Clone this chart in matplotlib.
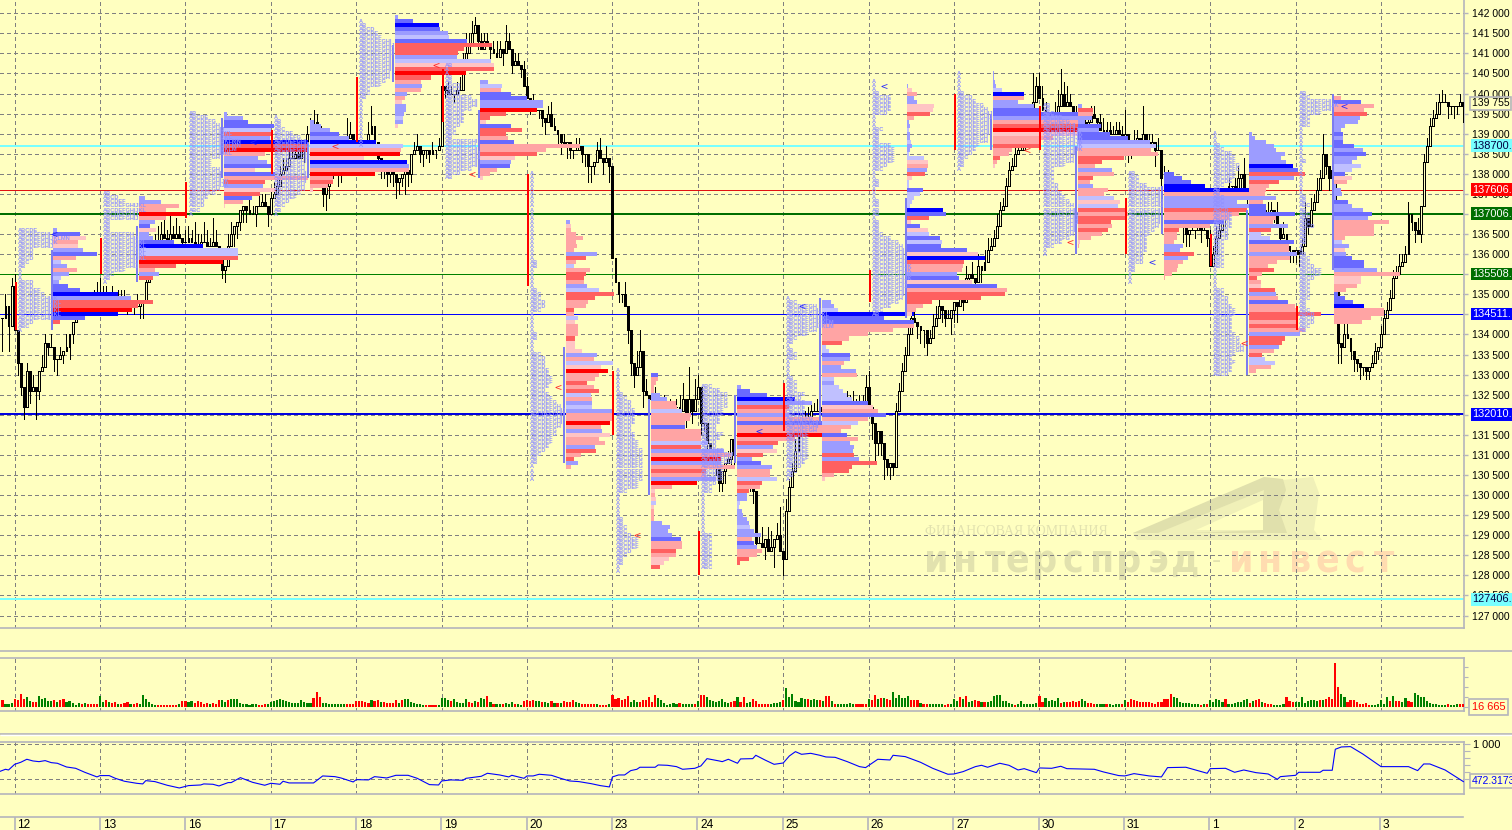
import numpy as np
import matplotlib
matplotlib.use('Agg')
import matplotlib.pyplot as plt
from matplotlib.patches import Polygon, Rectangle

BG = '#ffffc0'
GRID = '#808080'
FRAME = '#b4b4bc'
DASH = (0, (4, 3))
BAR_PX = 3.045  # one bar on screen
plt.rcParams['font.family'] = ['Liberation Sans', 'DejaVu Sans']

day_labels = ['12', '13', '16', '17', '18', '19', '20', '23', '24', '25', '26', '27', '30', '31', '1', '2', '3']

# closes, in hundreds of points, bar by bar
close_pre = [1344, 1347, 1342, 1352]
close_12 = [1341, 1333, 1327, 1322, 1331, 1326, 1327, 1326, 1331, 1332, 1338, 1337, 1337, 1334, 1334, 1335, 1336, 1337, 1340, 1343, 1344, 1346, 1347, 1347, 1348, 1348, 1349, 1350]
close_13 = [1349, 1350, 1350, 1350, 1350, 1349, 1349, 1349, 1349, 1348, 1348, 1347, 1347, 1348, 1348, 1353, 1357, 1361, 1362, 1363, 1365, 1364, 1363, 1365, 1364, 1365, 1364, 1363]
close_16 = [1363, 1364, 1363, 1362, 1362, 1363, 1363, 1362, 1362, 1363, 1362, 1361, 1356, 1357, 1362, 1365, 1367, 1368, 1371, 1372, 1371, 1370, 1370, 1372, 1372, 1373, 1372, 1370]
close_17 = [1374, 1375, 1377, 1380, 1381, 1382, 1384, 1384, 1385, 1384, 1386, 1387, 1390, 1391, 1393, 1392, 1381, 1375, 1377, 1379, 1380, 1381, 1381, 1382, 1387, 1389, 1390, 1388]
close_18 = [1388, 1386, 1386, 1386, 1390, 1392, 1388, 1384, 1382, 1381, 1380, 1381, 1380, 1378, 1379, 1380, 1381, 1380, 1385, 1386, 1387, 1385, 1386, 1386, 1385, 1386, 1386, 1387]
close_19 = [1402, 1401, 1400, 1400, 1400, 1401, 1401, 1408, 1410, 1412, 1415, 1417, 1413, 1411, 1413, 1412, 1411, 1410, 1409, 1411, 1410, 1413, 1411, 1407, 1408, 1407, 1406, 1402]
close_20 = [1399, 1397, 1396, 1396, 1396, 1394, 1393, 1395, 1392, 1391, 1390, 1388, 1387, 1388, 1386, 1386, 1386, 1387, 1385, 1385, 1382, 1382, 1383, 1386, 1384, 1383, 1384, 1382]
close_23 = [1359, 1353, 1350, 1350, 1347, 1341, 1333, 1330, 1332, 1336, 1326, 1325, 1324, 1324, 1322, 1322, 1321, 1322, 1321, 1320, 1322, 1322, 1321, 1324, 1320, 1324, 1321, 1324]
close_24 = [1327, 1318, 1318, 1313, 1310, 1310, 1308, 1303, 1306, 1308, 1309, 1314, 1310, 1311, 1314, 1311, 1306, 1304, 1301, 1288, 1288, 1287, 1289, 1286, 1287, 1289, 1290, 1286]
close_25 = [1284, 1296, 1302, 1306, 1311, 1315, 1318, 1318, 1319, 1321, 1321, 1321, 1322, 1321, 1322, 1322, 1321, 1322, 1322, 1321, 1321, 1322, 1322, 1321, 1322, 1321, 1322, 1327]
close_26 = [1322, 1318, 1313, 1316, 1313, 1309, 1307, 1308, 1307, 1321, 1326, 1331, 1335, 1340, 1344, 1343, 1342, 1341, 1341, 1338, 1339, 1342, 1344, 1347, 1346, 1344, 1344, 1346]
close_27 = [1348, 1347, 1349, 1348, 1354, 1355, 1354, 1353, 1357, 1356, 1358, 1361, 1362, 1364, 1367, 1371, 1372, 1377, 1381, 1382, 1385, 1386, 1386, 1387, 1388, 1392, 1398, 1402]
close_30 = [1399, 1396, 1394, 1392, 1391, 1395, 1397, 1400, 1397, 1398, 1397, 1394, 1395, 1395, 1393, 1392, 1393, 1395, 1394, 1393, 1391, 1390, 1391, 1390, 1390, 1391, 1390, 1389]
close_31 = [1390, 1388, 1387, 1388, 1389, 1388, 1390, 1388, 1387, 1388, 1386, 1386, 1379, 1378, 1379, 1377, 1376, 1372, 1370, 1367, 1365, 1366, 1366, 1366, 1367, 1366, 1366, 1364]
close_01 = [1357, 1360, 1364, 1366, 1370, 1376, 1377, 1377, 1376, 1379, 1380, 1376, 1375, 1372, 1374, 1372, 1371, 1371, 1370, 1369, 1371, 1370, 1367, 1364, 1365, 1362, 1361, 1360]
close_02 = [1361, 1360, 1362, 1369, 1367, 1371, 1373, 1376, 1379, 1385, 1382, 1379, 1381, 1364, 1338, 1337, 1340, 1339, 1336, 1334, 1333, 1332, 1332, 1331, 1332, 1333, 1336, 1337]
close_03 = [1340, 1344, 1346, 1349, 1354, 1355, 1357, 1358, 1360, 1370, 1368, 1366, 1365, 1372, 1383, 1387, 1392, 1394, 1395, 1398, 1398, 1398, 1397, 1397, 1397, 1397, 1398, 1397]

# wick per bar: + above the body, - below it
wick_pre = [-8, 3, -6, 2]
wick_12 = [3, -3, -2, -3, 2, -3, 3, -7, -2, 3, 2, -2, 3, -3, -4, 2, -2, 3, -3, -2, 3, 2, -2, 2, 2, -2, 2, 3]
wick_13 = [4, 2, 2, -2, 2, -2, 2, 2, 2, -3, -2, -2, 3, -3, -4, 2, 2, 3, 3, 4, 3, 4, 2, 5, 2, 4, 2, -3]
wick_16 = [3, 3, 2, 5, 3, 2, 5, 3, 2, 6, 3, -3, -2, -3, 3, 3, -3, -3, -2, -3, -3, 3, 2, -3, 3, 2, 2, -3]
wick_17 = [2, 3, 2, 2, 3, 2, 2, 2, 2, 2, 2, -3, 2, 3, 3, 2, -4, -3, -4, -3, 2, 2, -4, -3, 2, 5, 3, -5]
wick_18 = [5, -2, -3, 2, 3, 5, -2, -2, -3, -2, -3, -2, -3, -4, -3, -2, -5, -3, -2, 2, 3, -2, -3, -2, -2, 2, -2, 2]
wick_19 = [3, -2, 2, 2, -2, 2, 3, 2, 5, 3, 3, 2, -2, 2, 2, 2, -3, 2, 3, 2, -3, 4, 2, -2, 2, 2, -2, 2]
wick_20 = [2, -2, 3, 2, -2, -2, -3, 2, 3, 2, -3, -3, 2, -3, -2, -2, 3, 2, -2, -3, -4, -4, -2, 2, 3, -3, 3, -4]
wick_23 = [0, 0, -2, -2, 3, -3, -3, -3, 4, 5, -4, 3, -2, 3, 3, -3, -4, 3, -3, 3, -2, 2, 3, 4, -3, 8, -3, 5]
wick_24 = [3, -3, -2, -2, -3, -2, -3, -2, -2, -3, 2, -2, -3, 2, -3, 2, -3, -3, -3, -2, 2, 4, -3, 3, 4, -5, 3, 7]
wick_25 = [-4, 3, 2, 2, 3, 2, 2, 3, 3, 2, 2, 3, 2, 3, 4, 3, 2, 4, 2, 3, 2, 4, 3, 4, 2, 3, 3, 3]
wick_26 = [4, -4, -5, -3, -3, -5, -2, -3, -2, 2, 2, 2, 2, 2, 2, 3, -3, -3, -4, -3, 2, 3, 3, 3, -3, -2, 2, -4]
wick_27 = [-3, -4, 2, -2, 3, -2, 3, -3, 3, -3, 3, 3, 2, 2, 3, 2, 2, 2, 2, 2, 3, 3, 3, 2, 3, 4, 7, 2]
wick_30 = [3, 3, 2, -3, -2, 3, 4, 6, 3, 4, 2, -2, 2, 2, -2, 2, 3, 2, 2, -2, 2, 3, 2, 2, 2, 2, 2, 2]
wick_31 = [6, -5, -3, 3, 2, -2, 7, -2, 2, 2, -4, 3, -3, 3, 2, -3, -2, 3, 3, -4, -3, -3, 3, -2, 2, -3, 2, -2]
wick_01 = [2, 2, 3, 2, 3, -3, 2, -3, 2, 3, -3, 4, -3, -2, 3, -3, -2, 2, -2, 3, 2, -2, 3, -2, 3, -2, -3, -2]
wick_02 = [-2, -3, 2, 4, -2, 3, 2, 3, 2, 5, -2, -3, 2, 2, -5, -4, 4, 3, -2, -3, -2, -3, -2, -2, -2, 2, 2, -2]
wick_03 = [2, 2, 2, 2, 2, 2, 3, 2, 2, 3, -2, -3, 3, -2, 2, 2, 2, 2, 3, 2, 3, 2, -3, -2, -3, -2, 2, -4]

# volume per bar, + green, - red
vol_pre = [-7, 3, 3, 4]
vol_12 = [-8, -7, -13, -8, 10, 6, -5, -5, 11, 8, 9, 6, 6, -7, 5, -7, -8, 5, 6, 4, 2, 4, -3, 4, -3, -3, -3, -3]
vol_13 = [11, 5, -7, 5, -4, -5, 3, -3, -4, -5, 3, -3, -4, 3, 12, 8, 5, 3, 2, -2, -2, -2, -2, -2, -2, -2, 3, -6]
vol_16 = [-6, 5, 6, -4, -6, -5, -3, -4, 3, -4, -3, -7, 7, 5, -7, 8, 8, 8, 4, 3, 3, 2, 3, 3, -2, -2, -3, 3]
vol_17 = [5, 6, 7, 8, 7, 6, 5, 4, 4, 4, 7, 5, 4, 4, -9, -15, -10, 4, 4, 3, 3, 3, 3, 3, 3, -3, -3, -3]
vol_18 = [-6, -6, -6, -5, -4, 7, -6, -7, 5, -5, -4, -4, -4, -7, 4, -7, 8, 8, 5, 4, 3, 3, 2, -2, -2, -2, -2, 2]
vol_19 = [9, 9, 7, -6, 8, 5, 4, 4, 8, -5, -4, 6, -5, 9, 8, -11, 5, -3, 3, 3, -3, 4, 3, 5, -3, 3, 2, -6]
vol_20 = [-7, -6, -7, 6, 6, -5, 5, 4, -6, 4, -4, 4, -6, -5, -5, -7, 5, 4, -3, -3, -3, -3, -3, 3, -2, -2, -2, 3]
vol_23 = [-12, -8, -9, -7, -8, -11, 5, 7, 5, -5, -7, -7, -10, -5, -12, 9, 7, 4, 2, 3, 4, 3, -4, 3, 3, 3, 3, -3]
vol_24 = [6, -12, -12, 10, 7, 6, 5, 6, 8, 5, 4, -5, -6, 10, -5, -10, 4, 5, -8, -6, -3, -3, -3, -3, 3, 4, 4, 5]
vol_25 = [-7, 19, 10, 13, 6, 5, 9, 8, -8, 7, 8, 7, -7, 6, -11, -11, 6, -3, 3, 3, 3, 3, 4, 3, -3, -3, -3, -3]
vol_26 = [8, -7, -12, 8, -9, 9, -8, -7, 15, 9, 12, 9, 9, 11, -7, -7, -7, 4, -3, -3, 3, 3, 3, 3, 3, -2, -3, 3]
vol_27 = [8, 6, -10, 8, -11, 5, 6, -7, -6, 5, -5, 5, 6, 11, 12, 12, 6, 6, 4, 3, -2, 3, 6, 3, 3, 3, 3, 4]
vol_30 = [-11, -5, 9, 6, 7, 6, 9, -4, 5, -5, -5, -6, -5, -6, 8, 6, -4, -4, -3, 3, 3, 3, -3, 3, 2, 3, 3, -3]
vol_31 = [7, -5, -8, -7, -6, -5, -5, -5, -5, -4, -3, -5, -5, -8, -8, -13, 10, 9, 5, 4, 4, 4, 3, 3, 3, -2, 3, -3]
vol_01 = [7, 5, 8, 7, 5, -8, 3, 3, 4, 5, 5, 7, 8, -4, 6, -7, -8, 5, -4, -3, -3, 2, 2, 2, 3, -10, -6, -5]
vol_02 = [5, 5, 10, 4, 6, 7, 7, 6, -7, 7, -8, -10, -8, -44, -20, 13, 10, -5, -7, -7, -5, -3, -3, -4, -2, 2, 2, 3]
vol_03 = [7, 3, 10, -6, 11, -6, -6, 5, 9, -6, -5, 14, 12, 10, 10, 6, 4, 3, 3, 2, 2, 2, -3, 2, 2, 3, -3, -3]

# lower indicator, turning points only
osc_bar = [-5, -3, -2, 0, 2, 4, 6, 8, 10, 12, 14, 17, 20, 23, 27, 28, 31, 33, 36, 40, 42, 43, 46, 50, 54, 57, 61, 62, 65, 67, 70, 71, 74, 78, 82, 84, 87, 88, 90, 98, 101, 105, 107, 111, 112, 116, 118, 122, 125, 129, 132, 136, 139, 140, 143, 147, 148, 153, 155, 159,
           162, 163, 167, 168, 170, 172, 176, 179, 182, 185, 189, 192, 195, 196, 198, 200, 202, 204, 205, 210, 211, 214, 217, 219, 223, 225, 227, 231, 232, 234, 237, 238, 242, 243, 246, 249, 252, 254, 256, 258, 261, 264, 266, 269, 273, 277, 279, 283, 287, 288, 292, 297, 301, 306, 308, 311, 315, 317, 319, 323,
           326, 329, 331, 335, 336, 340, 343, 345, 354, 357, 362, 364, 367, 372, 376, 378, 384, 389, 391, 392, 397, 400, 403, 407, 411, 414, 415, 420, 421, 428, 429, 432, 433, 435, 438, 442, 448, 457, 460, 462, 464, 469, 475]
osc_val = [610, 643, 633, 714, 743, 786, 762, 752, 767, 738, 729, 676, 657, 600, 534, 553, 553, 514, 472, 443, 434, 481, 467, 415, 376, 410, 419, 434, 429, 405, 453, 453, 524, 457, 415, 443, 429, 472, 448, 448, 548, 538, 519, 462, 495, 491, 538, 519, 557, 557, 514, 424, 419, 476, 491, 486, 514, 543, 586, 562,
           534, 557, 514, 548, 548, 572, 557, 514, 476, 467, 438, 410, 391, 534, 562, 562, 624, 643, 672, 672, 705, 700, 681, 643, 657, 691, 795, 762, 752, 786, 729, 791, 795, 843, 776, 714, 733, 833, 895, 857, 871, 843, 819, 814, 752, 681, 667, 786, 776, 843, 824, 743, 657, 572, 576, 610, 681, 700, 672, 729,
           700, 633, 652, 595, 662, 657, 686, 652, 643, 605, 553, 548, 581, 548, 534, 667, 672, 610, 586, 652, 657, 600, 633, 595, 576, 500, 538, 557, 600, 600, 629, 629, 929, 962, 967, 862, 681, 681, 624, 719, 719, 633, 467]

# horizontal levels
level_price = [138700, 137606, 137006, 135508, 134511, 132010, 127406]
level_text = ['138700.', '137606.', '137006.', '135508.', '134511.', '132010.', '127406.']
level_width = [1.2, 0.6, 1.2, 0.6, 0.6, 1.2, 1.2]
level_color = ['#78ffff', '#e01010', '#006e00', '#008000', '#0000ff', '#0000e0', '#78ffff']
level_box = ['#78ffff', '#ff0000', '#006e00', '#006e00', '#0000ff', '#0000ff', '#78ffff']
level_ink = ['#000040', '#ffffff', '#ffffff', '#ffffff', '#ffffff', '#ffffff', '#000040']

# volume profiles, one row per 100 points from the top price downwards
# class letters: A..D buying strong to weak, E..H selling weak to strong
prof_top = [1366, 1374, 1395, 1393, 1419, 1403, 1368, 1330, 1327, 1348, 1402, 1405, 1397, 1380, 1390, 1399]
prof_12 = [4, 27, 33, 25, 25, 30, 44, 23, 8, 14, 24, 16, 8, 6, 15, 27, 65, 77, 99, 84, 78, 65, 32, 7]
cls_12 = 'CBEFECBFDCFCDCBBACGGHABG'
prof_13 = [6, 22, 40, 27, 46, 27, 16, 11, 17, 10, 14, 35, 64, 99, 99, 99, 84, 37, 16, 20, 14]
cls_13 = 'CCFFHFCBECCBADDGHGFCG'
prof_16 = [3, 19, 24, 50, 47, 47, 46, 84, 84, 84, 41, 34, 43, 48, 31, 51, 84, 41, 39, 51, 36, 28, 19, 1]
cls_16 = 'CCBBDGCAGHFCCBEBFGCEGBFE'
prof_17 = [4, 11, 20, 29, 39, 66, 93, 91, 90, 54, 97, 99, 99, 65, 23, 23, 18, 3]
cls_17 = 'CCCBCADFHEACFHFGFE'
prof_18 = [3, 18, 44, 45, 53, 54, 72, 97, 69, 63, 62, 96, 99, 99, 71, 36, 26, 27, 26, 12, 10, 7, 11, 11, 9, 8, 8, 3]
cls_18 = 'CBABCDBGGGCDEGHGFCFCFECCCDCE'
prof_19 = [8, 22, 21, 31, 47, 63, 63, 57, 26, 10, 6, 31, 42, 26, 28, 34, 99, 66, 57, 35, 31, 30, 17, 10, 3]
cls_19 = 'CDFBBCCHGGEBGGFBFFGECBFFE'
prof_20 = [4, 5, 5, 10, 17, 10, 11, 8, 31, 20, 10, 8, 24, 20, 18, 18, 21, 33, 48, 29, 22, 20, 8, 8, 12, 9, 12, 12, 12, 9, 9, 9, 16, 31, 28, 47, 35, 42, 33, 29, 21, 28, 33, 25, 26, 26, 26, 47, 47, 47, 44, 35, 36, 44, 33, 39, 29, 30, 15, 8, 12, 5]
cls_20 = 'CEFFFFFFCGFDFGGFCDGGFFGFDEFFFGEEECFDEHFFGFGDFCDCFFHFCEFFCGFGCF'
prof_23 = [7, 7, 5, 3, 3, 9, 16, 25, 26, 31, 40, 39, 34, 34, 50, 50, 50, 57, 50, 73, 80, 70, 70, 84, 55, 55, 65, 46, 21, 4, 4, 5, 5, 3, 3, 3, 3, 11, 19, 17, 21, 30, 31, 31, 25, 25, 18, 13, 9]
cls_23 = 'BFFFFCCFFDFFFBFFFDGCFHCFGFCHFEFEDEFFFCCCCBFFGFEEG'
prof_24 = [4, 13, 30, 58, 75, 52, 50, 52, 82, 85, 85, 85, 85, 58, 41, 36, 40, 26, 15, 24, 35, 33, 33, 40, 25, 23, 12, 10, 10, 3, 2, 5, 6, 10, 12, 13, 17, 24, 15, 17, 20, 25, 20, 12, 3]
cls_24 = 'CBBACGFCFBFFHFGCEGCBCFFDGFGCCDDCCCCDCCFBCFFGG'
prof_25 = [9, 12, 16, 92, 62, 92, 92, 71, 46, 27, 20, 4, 7, 28, 28, 22, 19, 34, 35, 12, 12, 17, 21, 25, 30, 46, 51, 56, 64, 46, 36, 29, 19, 25, 36, 28, 32, 31, 32, 37, 55, 30, 27, 12, 3]
cls_25 = 'CCDABBFFFFGDDBCFCCFDCDDDDBEFBFDFFBFCCCGCGGGFE'
prof_26 = [1, 5, 10, 7, 10, 27, 26, 23, 7, 2, 3, 2, 3, 3, 4, 5, 3, 2, 17, 21, 21, 20, 18, 5, 2, 2, 16, 13, 7, 5, 3, 36, 39, 22, 4, 13, 21, 22, 33, 35, 34, 60, 71, 77, 57, 56, 55, 50, 52, 65, 89, 99, 97, 74, 25, 16, 9, 5]
cls_26 = 'CEFCCEEGFCCDCCDCCDDEFCGEDDBDDDDABGEBEDBDBBEAGFFCBEBFGGGFFE'
prof_27 = [1, 1, 2, 3, 9, 31, 31, 25, 41, 47, 85, 85, 85, 85, 85, 85, 60, 47, 47, 19, 16, 7, 4, 2]
cls_27 = 'CCCCDAFCCBBCFGHEFFGFFGFE'
prof_30 = [4, 15, 15, 14, 7, 23, 21, 32, 50, 72, 78, 73, 80, 46, 24, 17, 34, 36, 15, 12, 15, 30, 26, 36, 42, 40, 47, 50, 47, 33, 34, 30, 24, 13, 2, 1]
cls_30 = 'CGFCCBCBBCDFFGGFCFGFCFFDEDGFGGFGFFEF'
prof_31 = [10, 18, 27, 41, 85, 85, 85, 73, 95, 83, 75, 65, 60, 46, 15, 13, 13, 10, 19, 16, 30, 24, 19, 14, 13, 8, 1]
cls_31 = 'BBBAAFCCCGFFBFGFFFCCGCFFFFF'
prof_01 = [3, 6, 17, 25, 27, 36, 32, 37, 44, 49, 56, 45, 30, 20, 17, 16, 27, 14, 17, 17, 46, 27, 24, 39, 22, 12, 21, 45, 40, 40, 48, 41, 28, 19, 25, 13, 8, 12, 12, 26, 27, 29, 39, 46, 48, 72, 48, 48, 48, 56, 51, 36, 33, 30, 25, 13, 16, 26, 22, 7]
cls_01 = 'CCCCCCCCABGCGFFFCFBBBFFCGDDBFFCFFFGFGFEGCFBFFGGFGFCGGCFGDDFF'
prof_02 = [7, 27, 40, 30, 33, 26, 24, 11, 7, 9, 9, 9, 20, 29, 32, 23, 18, 27, 18, 11, 18, 13, 2, 7, 8, 2, 14, 18, 29, 38, 34, 55, 40, 40, 40, 11, 8, 15, 11, 12, 18, 30, 30, 43, 66, 27, 27, 23, 12, 4, 11, 19, 30, 50, 50, 37, 28]
cls_02 = 'FBFFGCCCCBCBBCBCCDDBEFCCCCBCCBCFFFFFDCECBBBCFEEFFBBBAFFFF'
class_color = {'A': '#0000ff', 'B': '#6a6aff', 'C': '#9c9cff', 'D': '#c0c0ff',
               'E': '#ffc4c4', 'F': '#ffa4a4', 'G': '#ff6060', 'H': '#ff0000'}

# value area of each profile (high, low)
va_high = [1361, 1367, 1394, 1388, 1412, 1396, 1337, 1324, 1325, 1349, 1374, 1395, 1387, 1377, 1371, 1400]
va_low = [1341, 1353, 1379, 1379, 1403, 1379, 1308, 1300, 1308, 1318, 1344, 1386, 1360, 1365, 1330, 1356]
# red opening range at each day start (high, low)
or_high = [1353, 1364, 1378, 1391, 1404, 1406, 1380, 1331, 1291, 1328, 1356, 1400, 1397, 1374, 1365, 1347]
or_low = [1341, 1355, 1369, 1380, 1388, 1393, 1352, 1315, 1280, 1316, 1348, 1386, 1386, 1360, 1357, 1341]

# letter counts of the time-price blocks, one row per 100 points
tpo_top = [1366, 1375, 1395, 1394, 1418, 1407, 1380, 1331, 1327, 1349, 1403, 1405, 1397, 1380, 1390, 1400]
tpo_12 = [5, 9, 14, 11, 10, 4, 4, 4, 3, 2, 1, 1, 1, 4, 4, 6, 7, 11, 12, 12, 12, 12, 10, 4, 3, 1]
tpo_13 = [2, 4, 6, 12, 12, 10, 10, 2, 2, 2, 8, 10, 12, 12, 12, 12, 12, 10, 10, 6, 3, 2, 1]
tpo_16 = [2, 5, 7, 8, 10, 12, 12, 14, 14, 13, 12, 8, 6, 6, 8, 9, 9, 11, 11, 8, 7, 5, 4, 4, 3, 1]
tpo_17 = [1, 2, 2, 3, 5, 7, 9, 10, 10, 10, 10, 9, 8, 8, 9, 9, 9, 8, 8, 7, 6, 4, 3, 2, 1]
tpo_18 = [1, 2, 4, 5, 6, 9, 10, 10, 10, 9, 9, 9, 9, 8, 8, 7, 6, 3, 3, 2, 1, 1, 1, 1, 1, 1, 1, 1, 1, 1, 1, 1]
tpo_19 = [2, 1, 1, 2, 2, 4, 4, 4, 7, 9, 9, 7, 5, 5, 5, 4, 3, 3, 2, 9, 8, 9, 10, 10, 9, 9, 7, 4, 2]
tpo_20 = [1, 1, 1, 1, 1, 1, 1, 1, 1, 1, 1, 1, 1, 1, 1, 1, 1, 1, 1, 1, 1, 1, 2, 2, 1, 1, 1, 1, 1, 2, 3, 3, 4, 4, 3, 1, 1, 1, 1, 1, 2, 2, 1, 1, 1, 3, 4, 4, 4, 5, 5, 6, 6, 5, 4, 5, 6, 7, 8, 10, 10, 9, 9, 8, 7, 7, 6, 6, 5, 4, 3, 2, 2, 1, 1, 1, 1]
tpo_23 = [1, 1, 1, 1, 1, 1, 2, 3, 4, 4, 5, 5, 5, 5, 4, 4, 5, 5, 6, 6, 7, 7, 7, 7, 7, 7, 7, 7, 6, 6, 3, 1, 1, 1, 1, 1, 1, 2, 2, 3, 3, 4, 6, 6, 6, 4, 3, 2, 2, 1, 1]
tpo_24 = [3, 5, 7, 7, 7, 7, 6, 6, 5, 5, 4, 4, 6, 5, 4, 4, 6, 9, 8, 8, 6, 6, 6, 6, 4, 3, 3, 1, 1, 1, 1, 1, 1, 1, 1, 1, 1, 3, 3, 3, 3, 3, 3, 3, 3, 3]
tpo_25 = [1, 3, 8, 10, 12, 12, 13, 13, 8, 6, 3, 2, 1, 2, 3, 3, 1, 1, 1, 1, 2, 3, 3, 3, 5, 4, 5, 5, 5, 5, 7, 9, 9, 8, 6, 6, 6, 6, 6, 6, 6, 5, 4, 3, 2, 1]
tpo_26 = [1, 1, 1, 2, 5, 5, 5, 5, 4, 1, 1, 1, 3, 2, 2, 2, 5, 6, 6, 6, 6, 4, 3, 1, 1, 2, 2, 1, 1, 1, 2, 2, 2, 2, 1, 2, 2, 2, 3, 5, 7, 8, 9, 9, 10, 10, 11, 11, 11, 11, 10, 10, 9, 9, 8, 7, 5, 3, 2]
tpo_27 = [1, 1, 1, 1, 1, 2, 4, 5, 7, 8, 10, 10, 9, 9, 9, 9, 8, 8, 6, 5, 4, 3, 2, 2, 1]
tpo_30 = [2, 2, 3, 5, 7, 9, 10, 11, 11, 11, 11, 11, 9, 8, 8, 6, 3, 3, 3, 3, 4, 4, 5, 6, 7, 8, 9, 10, 10, 10, 9, 9, 8, 7, 5, 3, 1, 1]
tpo_31 = [2, 3, 3, 5, 9, 9, 9, 10, 10, 9, 9, 9, 9, 8, 7, 6, 5, 5, 5, 5, 4, 4, 4, 2, 2, 1, 1, 1]
tpo_01 = [1, 1, 1, 2, 3, 5, 6, 6, 7, 7, 6, 6, 5, 3, 2, 2, 3, 3, 3, 4, 5, 5, 5, 5, 4, 4, 4, 3, 3, 3, 3, 3, 3, 3, 1, 1, 1, 1, 1, 3, 3, 4, 4, 5, 6, 6, 5, 5, 5, 5, 6, 7, 7, 8, 8, 6, 5, 6, 5, 5, 4]
tpo_02 = [2, 3, 9, 11, 9, 6, 3, 3, 3, 1, 1, 1, 1, 1, 1, 1, 1, 2, 1, 1, 1, 1, 1, 1, 1, 1, 2, 2, 3, 2, 3, 3, 3, 4, 2, 2, 2, 2, 1, 1, 2, 3, 3, 4, 6, 6, 4, 3, 3, 3, 3, 3, 2, 2, 3, 4, 4, 4, 3, 2]
tpo_letters = 'ABCDEFGHIJKLMNOPQRSTUVWXYZab'

# small session markers: bar, price
mark_blue_bar = [13, 78, 258, 285, 373, 436, 244]
mark_blue_price = [1365, 1388, 1347, 1402, 1358, 1397, 1316]
mark_red_bar = [105, 138, 150, 178, 204, 332, 346, 403]
mark_red_price = [1387, 1407, 1380, 1327, 1290, 1386, 1363, 1338]

closes = np.concatenate([close_pre, close_12, close_13, close_16, close_17, close_18, close_19, close_20, close_23, close_24,
                         close_25, close_26, close_27, close_30, close_31, close_01, close_02, close_03]) * 100.0
wicks = np.concatenate([wick_pre, wick_12, wick_13, wick_16, wick_17, wick_18, wick_19, wick_20, wick_23, wick_24,
                        wick_25, wick_26, wick_27, wick_30, wick_31, wick_01, wick_02, wick_03]) * 100.0
volumes = np.concatenate([vol_pre, vol_12, vol_13, vol_16, vol_17, vol_18, vol_19, vol_20, vol_23, vol_24,
                          vol_25, vol_26, vol_27, vol_30, vol_31, vol_01, vol_02, vol_03])
profiles = [prof_12, prof_13, prof_16, prof_17, prof_18, prof_19, prof_20, prof_23, prof_24, prof_25, prof_26, prof_27, prof_30, prof_31, prof_01, prof_02]
classes = [cls_12, cls_13, cls_16, cls_17, cls_18, cls_19, cls_20, cls_23, cls_24, cls_25, cls_26, cls_27, cls_30, cls_31, cls_01, cls_02]
tpos = [tpo_12, tpo_13, tpo_16, tpo_17, tpo_18, tpo_19, tpo_20, tpo_23, tpo_24, tpo_25, tpo_26, tpo_27, tpo_30, tpo_31, tpo_01, tpo_02]

bars = np.arange(len(closes)) - 4
day_bars = np.arange(len(day_labels)) * 28
XLIM = (-4.8, 475.2)


def panel(top, bottom):
    ax = fig.add_axes([0, 1 - bottom / 830, 1464 / 1512, (bottom - top) / 830])
    ax.patch.set_visible(False)
    ax.set_xlim(*XLIM)
    ax.set_xticks([])
    for s in ax.spines.values():
        s.set_color(FRAME)
        s.set_linewidth(1.2)
    ax.spines['left'].set_visible(False)
    ax.vlines(day_bars, 0, 1, transform=ax.get_xaxis_transform(), color=GRID, lw=0.72, ls=DASH, antialiased=False, zorder=1)
    return ax


fig = plt.figure(figsize=(15.12, 8.30), dpi=100, facecolor=BG)

# backdrop: watermark and panel separators, in screen pixels
back = fig.add_axes([0, 0, 1, 1], zorder=0)
back.set_xlim(0, 1512)
back.set_ylim(830, 0)
back.axis('off')
back.add_patch(Polygon([(1137, 540), (1322, 540), (1314, 530), (1319, 493), (1313, 477), (1283, 480), (1133, 533)], fc='#f0f0b8', ec='none'))
back.add_patch(Polygon([(1196, 530), (1263, 500), (1263, 530)], fc=BG, ec='none'))
back.add_patch(Polygon([(1133, 533), (1264, 477), (1264, 490), (1158, 533)], fc='#e0e0ac', ec='none'))
back.add_patch(Polygon([(1264, 490), (1264, 477), (1283, 479), (1286, 490), (1279, 510), (1287, 533), (1190, 533), (1263, 530), (1263, 500)], fc='#e0e0ac', ec='none'))
back.text(925, 531.5, 'ФИНАНСОВАЯ КОМПАНИЯ', family=['Liberation Serif', 'DejaVu Serif'], fontsize=10, color='#e2e2b0', va='center')
for letter, px in zip('интерспрэд', [936, 965, 995, 1017, 1045, 1073, 1102, 1129, 1158, 1185]):
    back.text(px, 561, letter, family='DejaVu Sans', stretch='condensed', fontweight='bold', fontsize=28, color='#e2e2ae', ha='center', va='center')
back.text(1216, 561, '-', fontsize=20, color='#e2e2ae', ha='center', va='center')
for letter, px in zip('инвест', [1241, 1270, 1300, 1327, 1355, 1384]):
    back.text(px, 561, letter, family='DejaVu Sans', stretch='condensed', fontweight='bold', fontsize=28, color='#ffdcb0', ha='center', va='center')
back.hlines([651], 0, 1512, color=FRAME, lw=1.2)
back.hlines([733.5], 0, 1512, color=FRAME, lw=1.2)
back.hlines([735], 0, 1512, color='#ffffff', lw=1.0)

# main price panel
ax = panel(0, 628)
ax.set_zorder(1)
ax.set_ylim(126690, 142330)
price_ticks = np.arange(127000, 142001, 500)
ax.hlines(price_ticks, 0, 1, transform=ax.get_yaxis_transform(), color=GRID, lw=0.72, ls=DASH, antialiased=False, zorder=1)
ax.spines['top'].set_visible(False)
ax.yaxis.tick_right()
ax.set_yticks(price_ticks)
ax.set_yticklabels([f'{p // 1000} {p % 1000:03d}' for p in price_ticks], fontsize=7.5, color='#000000')
ax.tick_params(axis='y', length=3.2, color=FRAME, pad=2.4, width=1)

for p, w, c in zip(level_price, level_width, level_color):
    ax.axhline(p, color=c, lw=w, antialiased=False, zorder=2)

opens = np.concatenate([[closes[0]], closes[:-1]])
top = np.maximum(opens, closes)
low = np.minimum(opens, closes)
ax.vlines(bars, low + np.minimum(wicks, 0), top + np.maximum(wicks, 0), color='k', lw=0.5, antialiased=False, zorder=3)
up = closes >= opens
ax.bar(bars[up], (top - low)[up], bottom=low[up], width=0.62, fc=BG, ec='k', lw=0.5, antialiased=False, zorder=3.2)
ax.bar(bars[~up], (top - low)[~up], bottom=low[~up], width=0.62, fc='k', ec='k', lw=0.5, antialiased=False, zorder=3.4)

for i, (vals, cl) in enumerate(zip(profiles, classes)):
    day = day_bars[i]
    rows = (prof_top[i] - np.arange(len(vals))) * 100.0
    ax.barh(rows, np.array(vals) / BAR_PX, left=day + 12.7, height=100, color=[class_color[c] for c in cl],
            lw=0, antialiased=False, zorder=4)
    ax.vlines(day + 12.1, va_low[i] * 100, va_high[i] * 100, color='#7c7cf0', lw=1.2, antialiased=False, zorder=5)
    ax.vlines(day + 0.3, or_low[i] * 100, or_high[i] * 100, color='#ff0000', lw=1.2, antialiased=False, zorder=5)
    for k, n in enumerate(tpos[i]):
        ax.text(day + 1.0, (tpo_top[i] - k) * 100.0, tpo_letters[:n], fontsize=4.1, fontweight='bold', color='#9090ff',
                va='center', ha='left', zorder=6, clip_on=True)

ax.scatter(np.array(mark_blue_bar), np.array(mark_blue_price) * 100.0, marker='$<$', s=18, color='#2020ff', lw=0, zorder=7)
ax.scatter(np.array(mark_red_bar), np.array(mark_red_price) * 100.0, marker='$<$', s=18, color='#ff2020', lw=0, zorder=7)

# value boxes to the right of the price scale
yt = ax.get_yaxis_transform()
for p, txt, c, ink in zip(level_price, level_text, level_box, level_ink):
    ax.add_patch(Rectangle((1 + 7 / 1464, p - 160), 48 / 1464, 320, transform=yt, fc=c, ec='none', clip_on=False, zorder=9))
    ax.text(1 + 8.5 / 1464, p, txt, transform=yt, fontsize=7.9, color=ink, va='center', ha='left', zorder=10, clip_on=False)
ax.add_patch(Rectangle((1 + 6 / 1464, 139755 - 170), 41 / 1464, 340, transform=yt, fc=BG, ec=FRAME, lw=1.2, clip_on=False, zorder=9))
ax.text(1 + 8 / 1464, 139755, '139 755', transform=yt, fontsize=7.5, color='k', va='center', ha='left', zorder=10, clip_on=False)

# volume panel
axv = panel(658, 711)
axv.set_ylim(-4, 49)
axv.bar(bars, np.abs(volumes), width=0.7, color=np.where(volumes >= 0, '#008000', '#ff0000'), lw=0, antialiased=False, zorder=3)
axv.yaxis.tick_right()
axv.set_yticks([0, 10, 20, 30, 40])
axv.set_yticklabels([])
axv.tick_params(axis='y', length=3, color=FRAME)
axv.text(1 + 8 / 1464, 0, '16 665', transform=axv.get_yaxis_transform(), fontsize=7.9, color='#ff0000', va='center', ha='left', clip_on=False,
         bbox=dict(fc=BG, ec=FRAME, lw=1.2, boxstyle='square,pad=0.25'))

# indicator panel
axo = panel(741.7, 794)
axo.set_ylim(290, 1037)
axo.hlines([500, 1000], 0, 1, transform=axo.get_yaxis_transform(), color=GRID, lw=0.72, ls=DASH, antialiased=False, zorder=1)
axo.plot(osc_bar, osc_val, color='#0000ff', lw=0.8, zorder=3)
axo.yaxis.tick_right()
axo.set_yticks([500, 600, 700, 800, 900, 1000])
axo.set_yticklabels(['', '', '', '', '', '1 000'], fontsize=7.9)
axo.tick_params(axis='y', length=4, color=FRAME, pad=2.5)
axo.text(1 + 8 / 1464, 472.3, '472.3173', transform=axo.get_yaxis_transform(), fontsize=7.5, color='#0000ff', va='center', ha='left', clip_on=False,
         bbox=dict(fc=BG, ec=FRAME, lw=1.2, boxstyle='square,pad=0.2'))

# date strip
axd = fig.add_axes([0, 0, 1463 / 1512, 13 / 830])
axd.patch.set_visible(False)
axd.set_xlim(*XLIM)
axd.set_ylim(0, 1)
axd.set_xticks([])
axd.set_yticks([])
for name, s in axd.spines.items():
    s.set_visible(name == 'top')
    s.set_color(FRAME)
    s.set_linewidth(1.2)
axd.vlines(day_bars, 0, 1, color=FRAME, lw=1.2)
for d, lbl in zip(day_bars, day_labels):
    axd.text(d + 0.9, 0.42, lbl, fontsize=8.6, color='k', va='center', ha='left')

fig.savefig('out.png', dpi=100, facecolor=BG)
